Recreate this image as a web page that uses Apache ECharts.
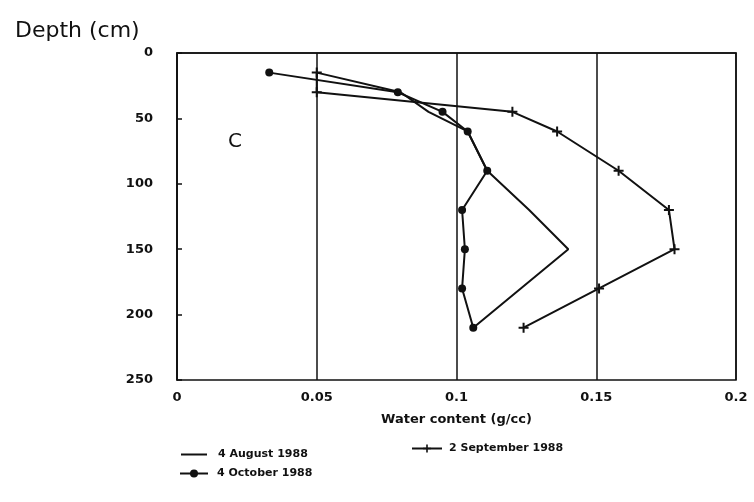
<!DOCTYPE html>
<html>
<head>
<meta charset="utf-8">
<script src="https://cdn.jsdelivr.net/npm/echarts@6/dist/echarts.min.js"></script>
<style>html,body{margin:0;padding:0;background:#fff}#c{width:754px;height:502px}</style>
</head>
<body>
<div id="c"></div>
<script>
// depth levels (cm)
const depths = [15, 30, 45, 60, 90, 120, 150, 180, 210];
// water content (g/cc)
const august = [0.05, 0.08, 0.09, 0.104, 0.111, 0.126, 0.14, 0.123, 0.106];
const september = [0.05, 0.05, 0.12, 0.136, 0.158, 0.176, 0.178, 0.151, 0.124];
const october = [0.033, 0.079, 0.095, 0.104, 0.111, 0.102, 0.103, 0.102, 0.106];
const xTicks = ['0', '0.05', '0.1', '0.15', '0.2'];
const seriesNames = ['4 August 1988', '2 September 1988', '4 October 1988'];

const pair = (vals) => vals.map((v, i) => [v, depths[i]]);
const plusPath = 'path://M4,0H6V4H10V6H6V10H4V6H0V4H4Z';
const font = 'DejaVu Sans, sans-serif';
const legendText = { fontFamily: font, fontSize: 11, fontWeight: 'bold', color: '#111', padding: [0, 0, 0, 6] };

const chart = echarts.init(document.getElementById('c'));
chart.setOption({
  animation: false,
  backgroundColor: '#fff',
  title: [
    { text: 'Depth (cm)', left: 10, top: 15, textStyle: { fontFamily: font, fontSize: 22, fontWeight: 'normal', color: '#111' } },
    { text: 'C', left: 223, top: 127, textStyle: { fontFamily: font, fontSize: 20, fontWeight: 'normal', color: '#111' } }
  ],
  grid: { left: 177, right: 18, top: 53, bottom: 122, show: true, borderColor: '#111', borderWidth: 1.5, backgroundColor: 'transparent' },
  xAxis: {
    type: 'value', min: 0, max: 0.2, interval: 0.05,
    name: 'Water content (g/cc)', nameLocation: 'middle', nameGap: 33,
    nameTextStyle: { fontFamily: font, fontSize: 13, fontWeight: 'bold', color: '#111' },
    axisLine: { show: true, lineStyle: { color: '#111', width: 1.5 } },
    axisTick: { show: false },
    axisLabel: { fontFamily: font, fontSize: 13, fontWeight: 'bold', color: '#111', margin: 11,
      formatter: (v) => xTicks[Math.round(v / 0.05)] },
    splitLine: { show: true, lineStyle: { color: '#111', width: 1.5 } }
  },
  yAxis: {
    type: 'value', min: 0, max: 250, interval: 50, inverse: true,
    axisLine: { show: true, lineStyle: { color: '#111', width: 1.5 } },
    axisTick: { show: true, inside: true, length: 5, lineStyle: { color: '#111', width: 1.5 } },
    axisLabel: { fontFamily: font, fontSize: 13, fontWeight: 'bold', color: '#111', margin: 24 },
    splitLine: { show: false }
  },
  legend: [
    { data: [{ name: seriesNames[0], icon: 'rect' }], left: 176, top: 444, itemWidth: 26, itemHeight: 2,
      textStyle: legendText },
    { data: [seriesNames[1]], left: 406, top: 438, itemWidth: 30, itemHeight: 10,
      textStyle: Object.assign({}, legendText, { padding: [0, 0, 0, 2] }) },
    { data: [seriesNames[2]], left: 174, top: 463, itemWidth: 28, itemHeight: 10,
      textStyle: Object.assign({}, legendText, { padding: [0, 0, 0, 4] }) }
  ],
  series: [
    { name: seriesNames[0], type: 'line', data: pair(august), symbol: 'none',
      lineStyle: { color: '#111', width: 2 }, itemStyle: { color: '#111' } },
    { name: seriesNames[1], type: 'line', data: pair(september), symbol: plusPath, symbolSize: 10,
      lineStyle: { color: '#111', width: 2 }, itemStyle: { color: '#111' } },
    { name: seriesNames[2], type: 'line', data: pair(october), symbol: 'circle', symbolSize: 8,
      lineStyle: { color: '#111', width: 2 }, itemStyle: { color: '#111' } }
  ]
});
</script>
</body>
</html>
